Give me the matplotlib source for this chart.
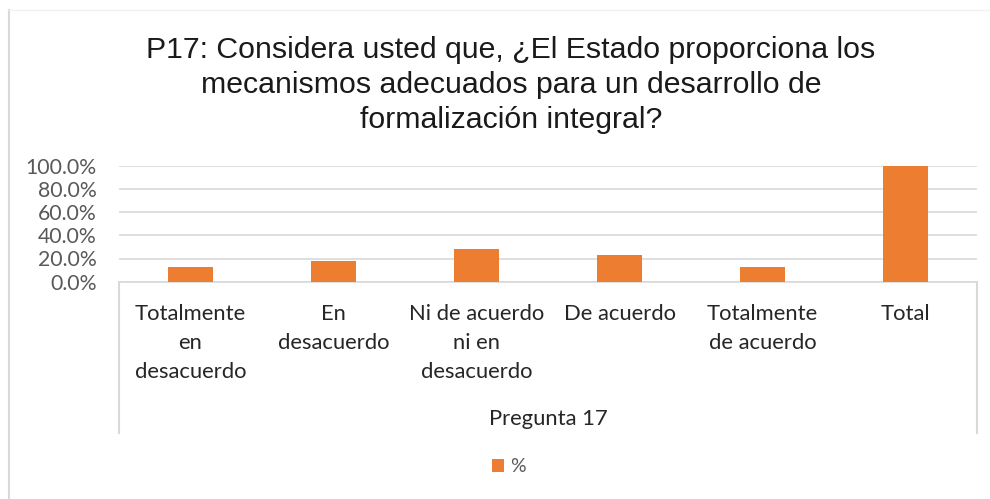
import matplotlib.pyplot as plt
from matplotlib.lines import Line2D
from matplotlib.ticker import PercentFormatter

# --- datos ---
categorias = ["Totalmente\nen\ndesacuerdo", "En\ndesacuerdo",
              "Ni de acuerdo\nni en\ndesacuerdo", "De acuerdo",
              "Totalmente\nde acuerdo", "Total"]
porcentajes = [0.126, 0.178, 0.282, 0.230, 0.126, 1.0]
titulo = ("P17: Considera usted que, ¿El Estado proporciona los\n"
          "mecanismos adecuados para un desarrollo de\n"
          "formalización integral?")
grupo = "Pregunta 17"
serie = "%"

naranja = "#ED7D31"
gris = "#D9D9D9"
texto = "#595959"
fuente = "Lato"

W, H = 990, 499
fig = plt.figure(figsize=(W / 100, H / 100), dpi=100)

# area del grafico en pixeles (desde arriba)
x0, x1 = 119, 977
y_top, y_bot = 165.7, 281.7
ax = fig.add_axes([x0 / W, 1 - y_bot / H, (x1 - x0) / W, (y_bot - y_top) / H])

pos = range(len(categorias))
ax.bar(pos, porcentajes, width=0.32, color=naranja, zorder=3, label=serie)
ax.set_xlim(-0.5, len(categorias) - 0.5)
ax.set_ylim(0, 1.0)
ax.set_yticks([0, 0.2, 0.4, 0.6, 0.8, 1.0])
ax.yaxis.set_major_formatter(PercentFormatter(1.0, decimals=1))
ax.grid(axis="y", color=gris, linewidth=1.2, zorder=0)

for s in ["top", "right", "left"]:
    ax.spines[s].set_visible(False)
ax.spines["bottom"].set_color(gris)
ax.spines["bottom"].set_linewidth(1.2)

ax.set_xticks(list(pos))
ax.set_xticklabels(categorias, fontsize=15.8, family=fuente, color="#262626",
                   linespacing=1.55)
ax.tick_params(axis="x", length=0, pad=16)
ax.tick_params(axis="y", length=0, pad=16, labelsize=15.3, labelcolor=texto)
for t in ax.get_yticklabels():
    t.set_family(fuente)

# lineas verticales del eje de categorias
for xp in (x0, x1):
    fig.add_artist(Line2D([xp / W, xp / W], [1 - y_bot / H, 1 - 433 / H],
                          color=gris, linewidth=1.5))

fig.text((x0 + x1) / 2 / W, 1 - 419 / H, grupo, ha="center", va="center",
         fontsize=15.8, family=fuente, color="#262626")

# titulo
fig.text(511 / W, 1 - 85 / H, titulo, ha="center", va="center",
         fontsize=21.8, family="Liberation Sans", color="#1a1a1a",
         linespacing=1.33)

# leyenda
ax.legend(loc="center", bbox_to_anchor=(509 / W, 1 - 467 / H),
          bbox_transform=fig.transFigure, frameon=False, handlelength=0.6,
          handleheight=0.6, handletextpad=0.3,
          prop={"family": fuente, "size": 14}, labelcolor=texto)

# borde del area del grafico
fig.add_artist(Line2D([8.5 / W, 8.5 / W], [0, 1 - 10 / H], color=gris, linewidth=1.5))
fig.add_artist(Line2D([8.5 / W, 1], [1 - 10 / H, 1 - 10 / H], color="#F2F2F2", linewidth=1))

fig.savefig("out.png", dpi=100)
